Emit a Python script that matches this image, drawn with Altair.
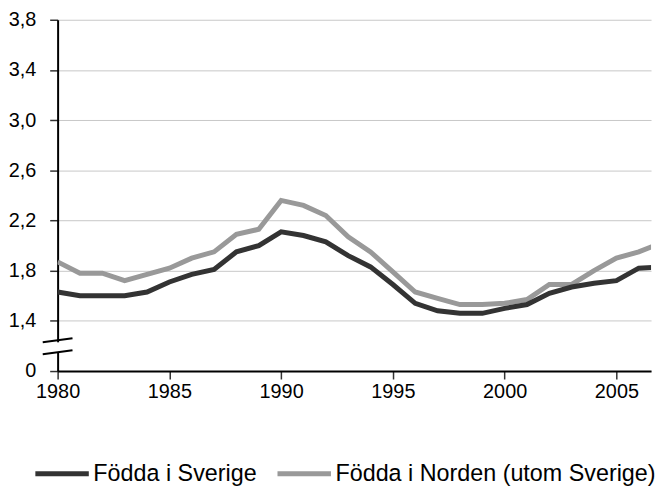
import altair as alt
import pandas as pd

years = list(range(1980, 2008))
sverige = [1.63, 1.60, 1.60, 1.60, 1.63, 1.71, 1.77, 1.81, 1.95, 2.00,
           2.11, 2.08, 2.03, 1.92, 1.83, 1.69, 1.54, 1.48, 1.46, 1.46,
           1.50, 1.53, 1.62, 1.67, 1.70, 1.72, 1.82, 1.83]
norden = [1.87, 1.78, 1.78, 1.72, 1.77, 1.82, 1.90, 1.95, 2.09, 2.13,
          2.36, 2.32, 2.24, 2.07, 1.95, 1.79, 1.63, 1.58, 1.53, 1.53,
          1.54, 1.57, 1.69, 1.69, 1.80, 1.90, 1.95, 2.02]
series_names = ["Födda i Sverige", "Födda i Norden (utom Sverige)"]
series_colors = ["#333333", "#999999"]
y_ticks = [1.0, 1.4, 1.8, 2.2, 2.6, 3.0, 3.4, 3.8]
x_ticks = [1980, 1985, 1990, 1995, 2000, 2005]

df = pd.DataFrame({
    "year": years * 2,
    "value": sverige + norden,
    "series": [series_names[0]] * len(years) + [series_names[1]] * len(years),
})

# axis break marks (in value units on the y scale)
breaks = pd.DataFrame({"y": [1.229, 1.134], "y2": [1.261, 1.166]})
gap = pd.DataFrame({"y": [1.15], "y2": [1.229]})

x_enc = alt.X("year:Q",
              scale=alt.Scale(domain=[1980, 2006.55], nice=False, zero=False),
              axis=alt.Axis(values=x_ticks, format="d", title=None, grid=False,
                            tickSize=8, labelPadding=3, labelFlush=False))
y_enc = alt.Y("value:Q",
              scale=alt.Scale(domain=[1.0, 3.8], nice=False, zero=False),
              axis=alt.Axis(values=y_ticks, title=None, tickSize=8, labelPadding=14,
                            labelFlush=False,
                            labelExpr="datum.value < 1.2 ? '0' : replace(format(datum.value, '.1f'), '.', ',')"))
color_enc = alt.Color("series:N",
                      scale=alt.Scale(domain=series_names, range=series_colors),
                      legend=alt.Legend(title=None, orient="none", direction="horizontal",
                                        columns=2, legendX=-25, legendY=428,
                                        symbolType="stroke", symbolSize=2900,
                                        symbolStrokeWidth=5, labelOffset=2,
                                        columnPadding=10, labelFontSize=23.5,
                                        labelFont="Liberation Sans", labelColor="black",
                                        labelLimit=0, padding=0))

gray_line = alt.Chart(df).transform_filter(
    alt.datum.series == series_names[1]
).mark_line(strokeWidth=5, clip=True).encode(x=x_enc, y=y_enc, color=color_enc)

dark_line = alt.Chart(df).transform_filter(
    alt.datum.series == series_names[0]
).mark_line(strokeWidth=5, clip=True).encode(x=x_enc, y=y_enc, color=color_enc)

gap_rect = alt.Chart(gap).mark_rect(color="white").encode(
    x=alt.value(-3), x2=alt.value(3), y="y:Q", y2="y2:Q")

break_marks = alt.Chart(breaks).mark_rule(color="black", strokeWidth=2).encode(
    x=alt.value(-15), x2=alt.value(15), y="y:Q", y2="y2:Q")

chart = alt.layer(gray_line, dark_line, gap_rect, break_marks).properties(
    width=598, height=354,
    padding={"left": 0, "top": 0, "right": 0, "bottom": 0},
).configure_view(stroke=None).configure_axis(
    labelFont="Liberation Sans", labelFontSize=20, labelColor="black",
    domainColor="black", domainWidth=2, tickColor="#333333", tickWidth=1.5,
    gridColor="#c8c8c8", gridWidth=1,
)

chart.save("out.html", embed_options={"renderer": "svg", "actions": False})
